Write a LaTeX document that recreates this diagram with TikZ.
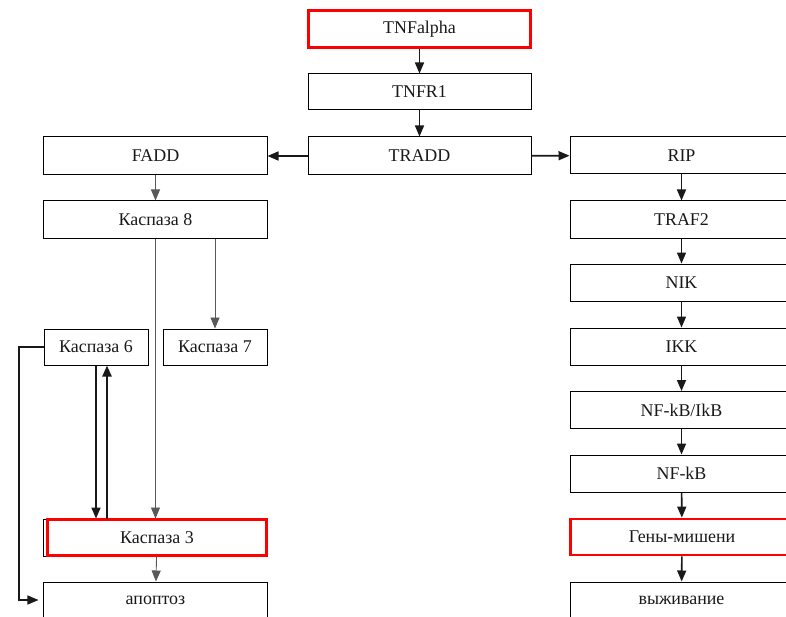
\documentclass[tikz,border=0pt]{standalone}
\usepackage{fontspec}
\setmainfont{Liberation Serif}
\usetikzlibrary{arrows.meta}
\begin{document}
\begin{tikzpicture}[x=1bp,y=-1bp,
  box/.style={draw=black, line width=1bp, minimum width=223bp, minimum height=37bp,
    inner sep=0pt, font=\fontsize{18}{20}\selectfont, text=black!90},
  smallbox/.style={box, minimum width=104bp, minimum height=36bp},
  hilite/.style={draw=red, line width=2.8bp},
  tip/.style={-{Triangle[length=11bp,width=9bp]}},
  flow/.style={tip, draw=black!90, line width=1.6bp},
  thinflow/.style={tip, draw=black!65, line width=0.9bp},
  upflow/.style={tip, draw=black!90, line width=2.2bp}]
\useasboundingbox (0,0) rectangle (786,617);
\fill[white] (0,0) rectangle (786,617);

% central column
\node[box, hilite, minimum width=222bp, minimum height=37bp] (tnf) at (419.5,29) {TNFalpha};
\node[box, minimum height=36bp] (tnfr) at (419.5,92) {TNFR1};
\node[box, minimum height=38bp] (tradd) at (419.5,156) {TRADD};

% apoptotic branch
\node[box, minimum height=38bp] (fadd) at (155.5,156) {FADD};
\node[box] (k8) at (155.5,219.5) {Каспаза 8};
\node[smallbox] (k6) at (96,347) {Каспаза 6};
\node[smallbox] (k7) at (215,347) {Каспаза 7};
\node[box, minimum width=223bp] (k3base) at (155.5,537.5) {};
\node[box, hilite, minimum width=219bp, minimum height=36bp] (k3) at (157,537.5) {Каспаза 3};
\node[box, minimum height=36bp] (apo) at (155.5,600) {апоптоз};

% survival branch
\node[box] (rip) at (681.5,155.5) {RIP};
\node[box] (traf) at (681.5,219.5) {TRAF2};
\node[box] (nik) at (681.5,282.5) {NIK};
\node[box] (ikk) at (681.5,346.5) {IKK};
\node[box] (nfi) at (681.5,410) {NF-kB/IkB};
\node[box] (nf) at (681.5,473.5) {NF-kB};
\node[box, hilite, minimum height=36bp] (gen) at (682,537) {Гены-мишени};
\node[box, minimum height=36bp] (surv) at (681.5,600) {выживание};

% helper points
\coordinate (upx) at (107,0);
\coordinate (k7x) at (215,0);
\coordinate (lft) at (19,475);

% connectors
\draw[flow] (tnf) -- (tnfr);
\draw[flow] (tnfr) -- (tradd);
\draw[flow] (tradd) -- (fadd);
\draw[flow] (tradd) -- (rip);

\draw[thinflow] (fadd) -- (k8);
\draw[thinflow] (k8.south -| k7x) -- (k7);
\draw[thinflow] (k8) -- (k3base);
\draw[flow] (k6.south) -- (k6.south |- k3base.north);
\draw[upflow] (k3base.north -| upx) -- (k6.south -| upx);
\draw[thinflow] (k3) -- (apo);
\draw[flow, line width=1.1bp, shorten >=5bp] (k6.west) -| (lft) |- (apo.west);

\draw[flow] (rip) -- (traf);
\draw[flow] (traf) -- (nik);
\draw[flow] (nik) -- (ikk);
\draw[flow] (ikk) -- (nfi);
\draw[flow] (nfi) -- (nf);
\draw[flow] (nf) -- (gen);
\draw[flow] (gen) -- (surv);
\end{tikzpicture}
\end{document}
